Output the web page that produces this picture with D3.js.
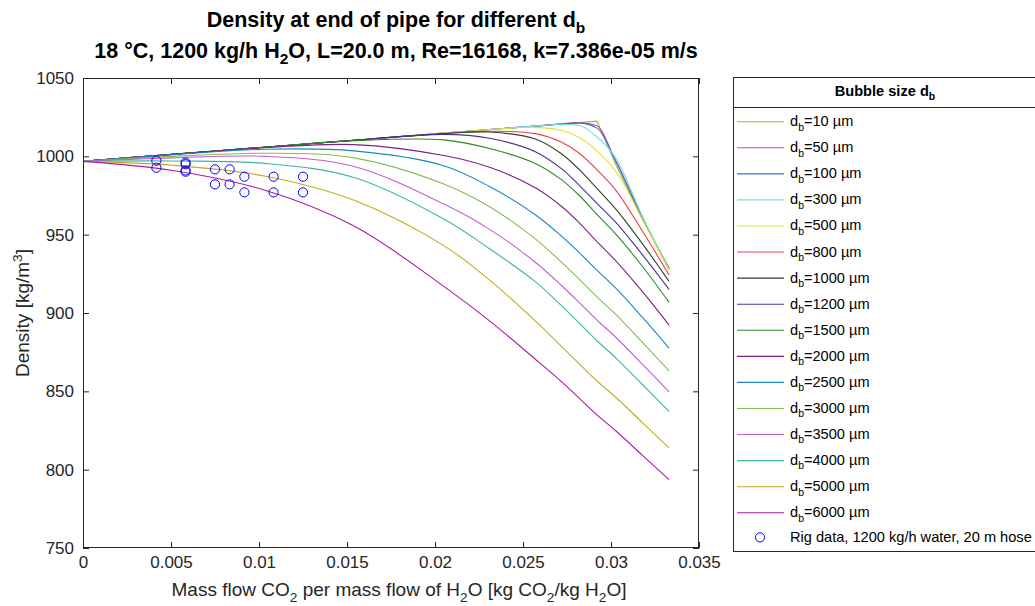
<!DOCTYPE html>
<html><head><meta charset="utf-8">
<script src="https://cdn.jsdelivr.net/npm/d3@7"></script>
<style>
body{margin:0;background:#fff}
text{font-family:"Liberation Sans",Arial,Helvetica,sans-serif}
</style>
</head><body>
<svg id="chart" width="1035" height="606"></svg>
<script>
// ---- data ----
const xGrid = [0, 0.0051, 0.0103, 0.0154, 0.0205, 0.0231, 0.0257, 0.0272, 0.0282, 0.0292, 0.0303, 0.0318, 0.0333];
const bubbleSizes = [10, 50, 100, 300, 500, 800, 1000, 1200, 1500, 2000, 2500, 3000, 3500, 4000, 5000, 6000];
const rho10   = [996.8, 1001.3, 1005.8, 1010.3, 1014.8, 1017.1, 1019.3, 1020.7, 1021.6, 1022.5, 994, 959.5, 928.7];
const rho50   = [996.8, 1001.3, 1005.8, 1010.3, 1014.8, 1017.1, 1019.3, 1020.7, 1021.5, 1019.5, 996, 960, 928.5];
const rho100  = [996.8, 1001.3, 1005.8, 1010.3, 1014.8, 1017.1, 1019.3, 1020.6, 1021.2, 1018, 996.5, 960.5, 928.2];
const rho300  = [996.8, 1001.3, 1005.8, 1010.3, 1014.8, 1017.1, 1019.3, 1020.5, 1019.7, 1012.5, 998.5, 961.5, 928];
const rho500  = [996.8, 1001.3, 1005.8, 1010.3, 1014.8, 1017, 1018.5, 1016.5, 1012, 1003.5, 990, 959.3, 927];
const rho800  = [996.8, 1001.3, 1005.8, 1010.3, 1014.6, 1016, 1014.5, 1009, 1002, 991.5, 978, 952, 924.2];
const rho1000 = [996.8, 1001.3, 1005.8, 1010.3, 1014.5, 1015.5, 1011, 1001.5, 991.5, 979.5, 966, 944, 920.2];
const rho1200 = [996.8, 1001.3, 1005.8, 1010.2, 1014, 1011.5, 1003, 992, 981.5, 970, 957.5, 937, 915.1];
const rho1500 = [996.8, 1001.3, 1005.8, 1010, 1010.5, 1005, 995.5, 985, 975, 963, 950, 929.5, 906.8];
const rho2000 = [996.8, 1001.2, 1005.5, 1007.5, 1000.5, 993, 980, 968, 957.5, 945.5, 933, 913.5, 892.3];
const rho2500 = [996.8, 1001, 1004.5, 1003.5, 994, 980.7, 962.7, 948.9, 938.5, 927.3, 915.5, 897, 877.6];
const rho3000 = [996.8, 1000, 1002, 999, 982.3, 967.8, 947.3, 932.3, 921.5, 910.3, 898.8, 881.1, 863.1];
const rho3500 = [996.8, 999, 1000, 993.5, 969.5, 953.4, 932.4, 917.4, 906.6, 895.5, 884.2, 867.1, 849.7];
const rho4000 = [996.8, 997, 995.5, 986.5, 960, 941, 920, 904.5, 893.5, 882.3, 871.1, 854.2, 837];
const rho5000 = [996.8, 994.3, 987.5, 972, 943, 921, 895, 878.5, 867.5, 856.6, 845.9, 829.9, 813.9];
const rho6000 = [996.8, 991, 978.5, 955.5, 917, 895, 870.5, 856, 845.5, 835, 824.5, 809, 793.7];
const seriesColors = ["#8fc23f", "#d24f86", "#3b6fd6", "#72e0e8", "#e6e02a", "#ef3b4f", "#2f4030", "#4a2f92",
                      "#2a8a2a", "#7e1f86", "#1a87c2", "#88bb55", "#c25fcf", "#3fb5a3", "#c9aa1c", "#b01aa0"];
const rigX = [0.00417, 0.00417, 0.00583, 0.00583, 0.00583, 0.00583, 0.0075, 0.0075, 0.00833, 0.00833, 0.00917, 0.00917, 0.01083, 0.01083, 0.0125, 0.0125];
const rigY = [997.2, 992.7, 996.0, 995.0, 991.0, 990.2, 991.7, 982.1, 991.7, 982.1, 987.0, 977.0, 987.0, 977.0, 987.0, 977.0];
const xTicks = [0, 0.005, 0.01, 0.015, 0.02, 0.025, 0.03, 0.035];
const yTicks = [750, 800, 850, 900, 950, 1000, 1050];

const seriesValues = [rho10, rho50, rho100, rho300, rho500, rho800, rho1000, rho1200, rho1500, rho2000, rho2500, rho3000, rho3500, rho4000, rho5000, rho6000];
const series = bubbleSizes.map((d, i) => ({d, color: seriesColors[i], pts: xGrid.map((x, j) => [x, seriesValues[i][j]])}));

// ---- layout ----
const svg = d3.select("#chart");
const L = 83, R = 699, T = 78, B = 548;
const x = d3.scaleLinear().domain([0, 0.035]).range([L, R]);
const y = d3.scaleLinear().domain([750, 1050]).range([B, T]);
const axisColor = "#262626";

// lines
const gLines = svg.append("g");
series.forEach((s, i) => {
  const curve = i === 0 ? d3.curveLinear : i <= 3 ? d3.curveMonotoneX : d3.curveCatmullRom.alpha(0.5);
  const line = d3.line().x(p => x(p[0])).y(p => y(p[1])).curve(curve);
  gLines.append("path").attr("d", line(s.pts)).attr("fill", "none")
    .attr("stroke", s.color).attr("stroke-width", 1.1);
});

// rig data
svg.append("g").selectAll("circle").data(rigX.map((v, i) => [v, rigY[i]])).join("circle")
  .attr("cx", d => x(d[0])).attr("cy", d => y(d[1])).attr("r", 4.6)
  .attr("fill", "none").attr("stroke", "#0000ff").attr("stroke-width", 1);

// axes
const fmt = d => d3.format("~g")(d);
function styleAxis(g) {
  g.select(".domain").remove();
  g.selectAll("line").attr("stroke", axisColor);
  g.selectAll("text").attr("fill", axisColor).style("font-size", "17px");
}
svg.append("g").attr("transform", `translate(0,${B})`)
  .call(d3.axisBottom(x).tickValues(xTicks).tickFormat(fmt).tickSize(-6).tickPadding(8)).call(styleAxis);
svg.append("g").attr("transform", `translate(0,${T})`)
  .call(d3.axisTop(x).tickValues(xTicks).tickFormat("").tickSize(-6)).call(styleAxis);
svg.append("g").attr("transform", `translate(${L},0)`)
  .call(d3.axisLeft(y).tickValues(yTicks).tickFormat(fmt).tickSize(-6).tickPadding(9)).call(styleAxis);
svg.append("g").attr("transform", `translate(${R},0)`)
  .call(d3.axisRight(y).tickValues(yTicks).tickFormat("").tickSize(-6)).call(styleAxis);
svg.append("rect").attr("x", L + 0.5).attr("y", T + 0.5).attr("width", R - L - 1).attr("height", B - T - 1)
  .attr("fill", "none").attr("stroke", axisColor).attr("stroke-width", 1);

// rich text helper: parts = [[text, mode]] mode: 0 normal, 1 subscript, 2 superscript
function rich(g, parts, size) {
  let cur = 0;
  parts.forEach(([t, m]) => {
    const target = m === 1 ? size * 0.3 : m === 2 ? -size * 0.38 : 0;
    g.append("tspan").attr("dy", target - cur).style("font-size", (m ? size * 0.72 : size) + "px").text(t);
    cur = target;
  });
  return g;
}

// titles
const tc = 396;
const t1 = svg.append("text").attr("x", tc).attr("y", 27).attr("text-anchor", "middle")
  .attr("font-weight", "bold").attr("fill", "#000");
rich(t1, [["Density at end of pipe for different d", 0], ["b", 1]], 21.5);
const t2 = svg.append("text").attr("x", tc).attr("y", 57.5).attr("text-anchor", "middle")
  .attr("font-weight", "bold").attr("fill", "#000");
rich(t2, [["18 °C, 1200 kg/h H", 0], ["2", 1], ["O, L=20.0 m, Re=16168, k=7.386e-05 m/s", 0]], 21.5);

// axis labels
const xl = svg.append("text").attr("x", (L + R) / 2 + 8).attr("y", 596).attr("text-anchor", "middle").attr("fill", axisColor);
rich(xl, [["Mass flow CO", 0], ["2", 1], [" per mass flow of H", 0], ["2", 1], ["O [kg CO", 0], ["2", 1], ["/kg H", 0], ["2", 1], ["O]", 0]], 19);
const yl = svg.append("text").attr("transform", `translate(29,${(T + B) / 2}) rotate(-90)`).attr("text-anchor", "middle").attr("fill", axisColor);
rich(yl, [["Density [kg/m", 0], ["3", 2], ["]", 0]], 19);

// legend
const LX = 733, LT = 77, LB = 551, LR = 1037;
const lg = svg.append("g");
lg.append("rect").attr("x", LX + 0.5).attr("y", LT + 0.5).attr("width", LR - LX).attr("height", LB - LT)
  .attr("fill", "#fff").attr("stroke", axisColor).attr("stroke-width", 1);
lg.append("line").attr("x1", LX).attr("x2", LR).attr("y1", 107.5).attr("y2", 107.5).attr("stroke", axisColor);
const lh = lg.append("text").attr("x", (LX + LR) / 2).attr("y", 96).attr("text-anchor", "middle")
  .attr("font-weight", "bold").attr("fill", "#000");
rich(lh, [["Bubble size d", 0], ["b", 1]], 14.6);
const rowY = i => 121.7 + i * 26.07;
series.forEach((s, i) => {
  const yy = rowY(i);
  lg.append("line").attr("x1", 737).attr("x2", 784).attr("y1", yy).attr("y2", yy)
    .attr("stroke", s.color).attr("stroke-width", 1.1);
  const tx = lg.append("text").attr("x", 790).attr("y", yy + 4.5).attr("fill", "#000");
  rich(tx, [["d", 0], ["b", 1], ["=" + s.d + " µm", 0]], 14.6);
});
const ry = rowY(16) - 1.5;
lg.append("circle").attr("cx", 760).attr("cy", ry).attr("r", 4.6).attr("fill", "none").attr("stroke", "#0000ff");
lg.append("text").attr("x", 790).attr("y", ry + 4.5).attr("fill", "#000").style("font-size", "14.6px")
  .text("Rig data, 1200 kg/h water, 20 m hose");
</script>
</body></html>
